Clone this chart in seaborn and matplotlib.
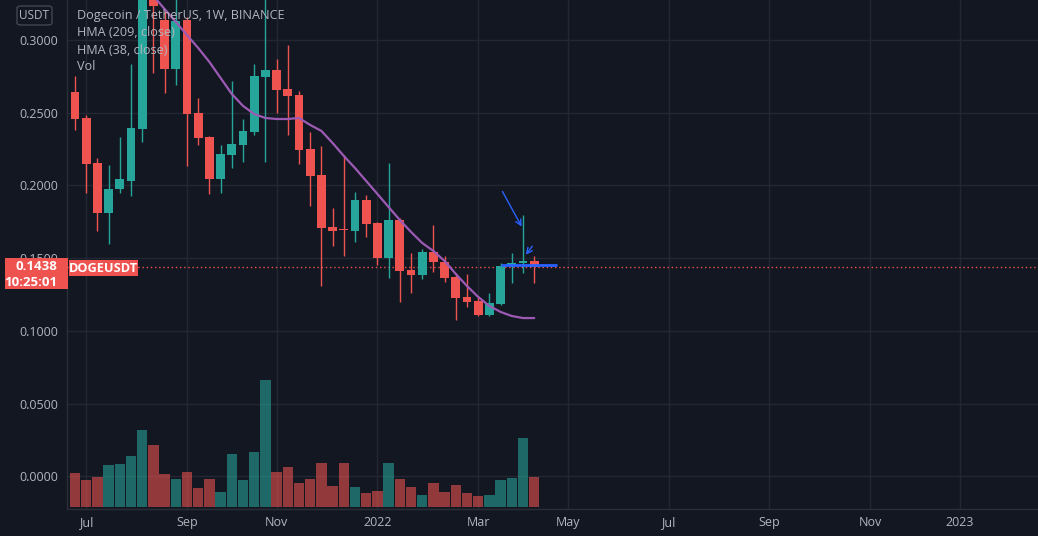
import numpy as np
import pandas as pd
import matplotlib
matplotlib.use("Agg")
import matplotlib.pyplot as plt
from matplotlib.patches import Rectangle, FancyBboxPatch
import seaborn as sns

# ---------------- data ----------------
first_week = "2021-06-28"
opens = [0.2643, 0.2464, 0.2155, 0.1811, 0.1976, 0.2031, 0.2388, 0.3350, 0.3137, 0.2801,
         0.3137, 0.2498, 0.2333, 0.2045, 0.2210, 0.2278, 0.2368, 0.2746, 0.2794, 0.2663,
         0.2622, 0.2251, 0.2072, 0.1715, 0.1697, 0.1687, 0.1900, 0.1742, 0.1502, 0.1763,
         0.1419, 0.1385, 0.1543, 0.1474, 0.1371, 0.1234, 0.1206, 0.1110, 0.1186, 0.1447,
         0.1467, 0.1481]
highs = [0.2753, 0.2485, 0.2189, 0.2141, 0.2333, 0.2835, 0.3450, 0.3600, 0.3206, 0.3350,
         0.3160, 0.2601, 0.2340, 0.2278, 0.2718, 0.2457, 0.2835, 0.3474, 0.2869, 0.2966,
         0.2650, 0.2368, 0.2271, 0.1845, 0.2210, 0.1955, 0.1935, 0.1750, 0.2155, 0.1777,
         0.1536, 0.1564, 0.1729, 0.1515, 0.1399, 0.1392, 0.1241, 0.1261, 0.1467, 0.1536,
         0.1797, 0.1515]
lows = [0.2381, 0.1948, 0.1687, 0.1598, 0.1948, 0.1928, 0.2299, 0.2773, 0.2636, 0.2691,
        0.2134, 0.2278, 0.1942, 0.1948, 0.2120, 0.2162, 0.2347, 0.2162, 0.2498, 0.2347,
        0.2148, 0.1859, 0.1309, 0.1584, 0.1516, 0.1612, 0.1646, 0.1454, 0.1364, 0.1199,
        0.1261, 0.1357, 0.1406, 0.1337, 0.1076, 0.1165, 0.1103, 0.1103, 0.1180, 0.1330,
        0.1399, 0.1330]
closes = [0.2457, 0.2148, 0.1811, 0.1976, 0.2045, 0.2395, 0.3350, 0.3234, 0.2801, 0.3131,
          0.2491, 0.2326, 0.2045, 0.2217, 0.2285, 0.2375, 0.2753, 0.2794, 0.2656, 0.2615,
          0.2244, 0.2065, 0.1708, 0.1687, 0.1692, 0.1900, 0.1735, 0.1502, 0.1763, 0.1412,
          0.1385, 0.1543, 0.1474, 0.1364, 0.1227, 0.1199, 0.1110, 0.1192, 0.1447, 0.1467,
          0.1481, 0.1438]
volumes = [8.1, 6.6, 7.3, 10.1, 10.3, 12.2, 18.5, 14.9, 8.0, 6.7,
           8.5, 4.6, 6.7, 3.6, 12.7, 6.6, 13.3, 30.5, 8.5, 9.7,
           5.8, 6.7, 10.6, 5.0, 10.6, 4.8, 3.4, 3.8, 10.6, 6.7,
           4.8, 2.9, 5.8, 3.6, 5.2, 3.3, 2.6, 3.0, 6.4, 6.9,
           16.5, 7.2]
hma38 = [np.nan, np.nan, np.nan, np.nan, np.nan, np.nan, 0.3392, 0.3302, 0.3213, 0.3124,
         0.3034, 0.2945, 0.2849, 0.2739, 0.2629, 0.2547, 0.2491, 0.2464, 0.2457, 0.2457,
         0.2464, 0.2416, 0.2375, 0.2292, 0.2203, 0.2120, 0.2031, 0.1942, 0.1852, 0.1763,
         0.1681, 0.1605, 0.1550, 0.1481, 0.1392, 0.1309, 0.1234, 0.1172, 0.1131, 0.1103,
         0.1089, 0.1089]
y_ticks = [0.0, 0.05, 0.10, 0.15, 0.20, 0.25, 0.30]
x_tick_dates = ["2021-07-05", "2021-09-06", "2021-11-01", "2022-01-03", "2022-03-07",
                "2022-05-02", "2022-07-04", "2022-09-05", "2022-11-07", "2023-01-02"]
x_tick_labels = ["Jul", "Sep", "Nov", "2022", "Mar", "May", "Jul", "Sep", "Nov", "2023"]
last_price = 0.1438
countdown = "10:25:01"
symbol = "DOGEUSDT"
title_lines = ["Dogecoin / TetherUS, 1W, BINANCE", "HMA (209, close)", "HMA (38, close)", "Vol"]
# drawing tools (price-level annotations)
arrow1 = ((38.04, 0.1976), (40.0, 0.1701))
arrow2 = ((40.98, 0.1598), (40.1, 0.1509))
hline_level = 0.1454
hline_span = (38.04, 43.04)

# ---------------- style ----------------
BG = "#131722"
GRID = "#232733"
TXT = "#b2b5be"
UP = "#26a69a"
DOWN = "#ef5350"
HMA_C = "#9c5ab4"
BLUE = "#2962ff"

sns.set_style("dark")
plt.rcParams["font.family"] = ["Open Sans", "DejaVu Sans"]

W, H = 1038, 536
fig = plt.figure(figsize=(W / 100, H / 100), dpi=100, facecolor=BG)
ax = fig.add_axes([67 / W, 27 / H, 1 - 67 / W, 509 / H])
ax.set_facecolor(BG)

dates = pd.date_range(first_week, periods=len(opens), freq="7D")
df = pd.DataFrame({"date": dates, "open": opens, "high": highs, "low": lows,
                   "close": closes, "volume": volumes, "hma": hma38})
df["i"] = np.arange(len(df))
df["up"] = df["close"] >= df["open"]
df["color"] = np.where(df["up"], UP, DOWN)

# candles
ax.vlines(df["i"], df["low"], df["high"], colors=df["color"], lw=1, zorder=3)
body_bottom = np.minimum(df["open"], df["close"])
body_h = np.maximum(np.abs(df["close"] - df["open"]), 0.0007)
ax.bar(df["i"], body_h, bottom=body_bottom, width=0.8, color=df["color"], zorder=4, linewidth=0)

# HMA line
sns.lineplot(data=df.dropna(subset=["hma"]), x="i", y="hma", ax=ax, color=HMA_C, lw=1.6, zorder=5)

# last price dotted line
ax.axhline(last_price, color=DOWN, lw=1, ls=(0, (1, 2)), zorder=2)

# drawings
ax.hlines(hline_level, hline_span[0], hline_span[1], color=BLUE, lw=2, zorder=6)
for (s, e) in (arrow1, arrow2):
    ax.annotate("", xy=e, xytext=s,
                arrowprops=dict(arrowstyle="->", color=BLUE, lw=1, mutation_scale=10), zorder=7)

ax.set_xlim(-0.714, 85.98)
ax.set_ylim(-0.02234, 0.32749)

start = pd.Timestamp(first_week)
xt = [(pd.Timestamp(d) - start).days / 7 for d in x_tick_dates]
ax.set_xticks(xt)
ax.set_xticklabels(x_tick_labels)
ax.set_yticks(y_ticks)
ax.set_yticklabels([f"{v:.4f}" for v in y_ticks])
ax.tick_params(axis="both", length=0, colors=TXT, labelsize=9)
ax.tick_params(axis="y", pad=6.5)
ax.tick_params(axis="x", pad=5)
ax.grid(True, color=GRID, lw=1)
ax.set_axisbelow(True)
ax.set_xlabel("")
ax.set_ylabel("")
for s in ["top", "right"]:
    ax.spines[s].set_visible(False)
for s in ["left", "bottom"]:
    ax.spines[s].set_visible(True)
    ax.spines[s].set_color("#2a2e39")
    ax.spines[s].set_linewidth(1)

# volume on twin axis
ax2 = ax.twinx()
ax2.patch.set_visible(False)
ax2.bar(df["i"], df["volume"], width=0.92, color=df["color"], alpha=0.58, linewidth=0)
ax2.set_ylim(-0.48, 122.0)
ax2.set_yticks([])
ax2.grid(False)
for s in ax2.spines.values():
    s.set_visible(False)
ax2.set_xlim(-0.714, 85.98)


def fy(y):
    return 1 - y / H


# legend text
for k, t in enumerate(title_lines):
    fig.text(77 / W, fy(16 + 17 * k), t, ha="left", va="center", color=TXT, fontsize=9.1, zorder=10)

# USDT box
fig.patches.append(FancyBboxPatch((17 / W, fy(25)), 35 / W, 19 / H,
                                  boxstyle="round,pad=0,rounding_size=0.004",
                                  transform=fig.transFigure, facecolor=BG,
                                  edgecolor="#434651", lw=1, zorder=10))
fig.text(34.5 / W, fy(15.5), "USDT", ha="center", va="center", color=TXT, fontsize=8.5, zorder=11)

# last price label
fig.patches.append(Rectangle((5 / W, fy(289)), 63 / W, 31 / H, transform=fig.transFigure,
                             facecolor=DOWN, edgecolor="none", zorder=10))
fig.text(57 / W, fy(267), f"{last_price:.4f}", ha="right", va="center", color="white",
         fontsize=9.5, fontweight="bold", zorder=11)
fig.text(57 / W, fy(282), countdown, ha="right", va="center", color="white",
         fontsize=9.5, fontweight="bold", zorder=11)

fig.patches.append(Rectangle((69 / W, fy(276)), 69 / W, 16 / H, transform=fig.transFigure,
                             facecolor=DOWN, edgecolor="none", zorder=10))
fig.text(103.5 / W, fy(268), symbol, ha="center", va="center", color="white",
         fontsize=9.2, fontweight="bold", zorder=11)

fig.savefig("out.png", dpi=100, facecolor=BG)
